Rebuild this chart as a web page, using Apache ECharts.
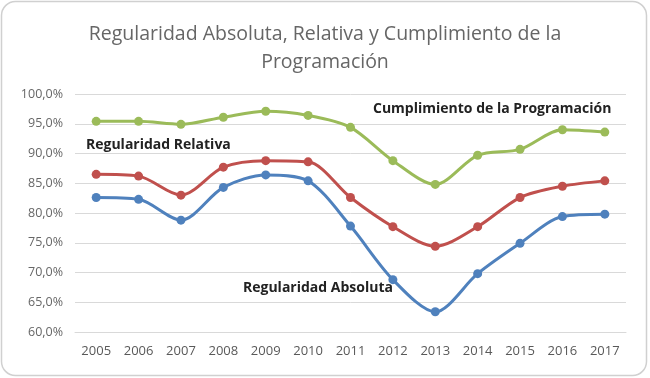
<!DOCTYPE html>
<html>
<head>
<meta charset="utf-8">
<script src="https://cdn.jsdelivr.net/npm/echarts@6/dist/echarts.min.js"></script>
<style>
  html, body { margin: 0; padding: 0; background: #fff; }
  #chart { width: 650px; height: 378px; }
</style>
</head>
<body>
<div id="chart"></div>
<script>
// datos
var years = ["2005", "2006", "2007", "2008", "2009", "2010", "2011", "2012", "2013", "2014", "2015", "2016", "2017"];
var cumplimiento = [95.4, 95.4, 94.9, 96.1, 97.1, 96.4, 94.4, 88.8, 84.8, 89.7, 90.7, 94.0, 93.6];
var relativa = [86.5, 86.2, 83.0, 87.7, 88.8, 88.6, 82.6, 77.7, 74.4, 77.7, 82.6, 84.5, 85.4];
var absoluta = [82.6, 82.3, 78.8, 84.3, 86.4, 85.4, 77.8, 68.8, 63.4, 69.8, 74.9, 79.4, 79.8];

var font = "Open Sans";
var chart = echarts.init(document.getElementById("chart"));

function serie(name, data, color) {
  return {
    name: name,
    type: "line",
    data: data,
    smooth: 0.3,
    symbol: "circle",
    symbolSize: 9,
    lineStyle: { width: 3, color: color },
    itemStyle: { color: color },
    z: 3
  };
}

var option = {
  animation: false,
  backgroundColor: "#fff",
  textStyle: { fontFamily: font },
  title: {
    text: "Regularidad Absoluta, Relativa y Cumplimiento de la\nProgramación",
    left: "center",
    top: 15,
    textStyle: { fontFamily: font, fontSize: 19.5, fontWeight: "normal", color: "#666", lineHeight: 28 }
  },
  grid: { left: 75, right: 24, top: 94, bottom: 46 },
  xAxis: {
    type: "category",
    data: years,
    axisTick: { show: false },
    axisLine: { lineStyle: { color: "#d9d9d9" } },
    axisLabel: { color: "#595959", fontSize: 13, margin: 13 }
  },
  yAxis: {
    type: "value",
    min: 60,
    max: 100,
    interval: 5,
    axisLine: { show: false },
    axisTick: { show: false },
    splitLine: { lineStyle: { color: "#d9d9d9" } },
    axisLabel: {
      color: "#666",
      fontSize: 12.5,
      margin: 12,
      formatter: function (v) { return v.toFixed(1).replace(".", ",") + "%"; }
    }
  },
  series: [
    serie("Cumplimiento de la Programación", cumplimiento, "#9bbb59"),
    serie("Regularidad Relativa", relativa, "#c0504d"),
    serie("Regularidad Absoluta", absoluta, "#4f81bd")
  ],
  graphic: [
    {
      type: "rect",
      shape: { x: 1.5, y: 1.5, width: 645, height: 374, r: 14 },
      style: { fill: "none", stroke: "#d0d0d0", lineWidth: 1.5 },
      silent: true
    },
    {
      type: "text", left: 86, top: 138,
      style: { text: "Regularidad Relativa", font: "bold 14px " + font, fill: "#222" }
    },
    {
      type: "text", left: 373, top: 102,
      style: { text: "Cumplimiento de la Programación", font: "bold 14px " + font, fill: "#222" }
    },
    {
      type: "text", left: 243, top: 281,
      style: { text: "Regularidad Absoluta", font: "bold 14px " + font, fill: "#222" }
    }
  ]
};
chart.setOption(option);
</script>
</body>
</html>
